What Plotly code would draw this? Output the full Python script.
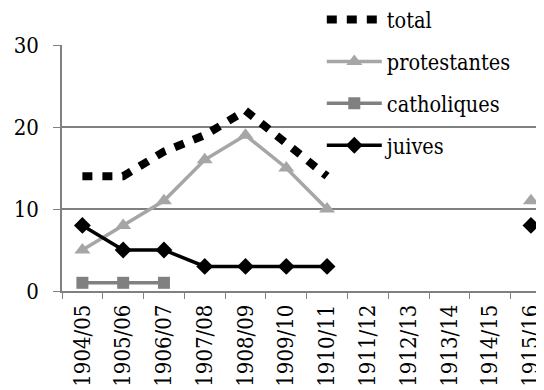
import plotly.graph_objects as go

years = ["1904/05", "1905/06", "1906/07", "1907/08", "1908/09", "1909/10",
         "1910/11", "1911/12", "1912/13", "1913/14", "1914/15", "1915/16"]
total = [14, 14, 17, 19, 22, 18, 14, None, None, None, None, None]
protestantes = [5, 8, 11, 16, 19, 15, 10, None, None, None, None, 11]
catholiques = [1, 1, 1, None, None, None, None, None, None, None, None, None]
juives = [8, 5, 5, 3, 3, 3, 3, None, None, None, None, 8]

serif = "DejaVu Serif Condensed, DejaVu Serif"

fig = go.Figure()

fig.add_trace(go.Scatter(x=years, y=total, name="total", mode="lines",
                         line=dict(color="black", width=8, dash="10px,10px"),
                         legendgroup="a"))
fig.add_trace(go.Scatter(x=years, y=protestantes, name="protestantes", mode="lines+markers",
                         line=dict(color="#a6a6a6", width=3.5),
                         marker=dict(symbol="triangle-up", size=14, color="#a6a6a6"),
                         legendgroup="b", cliponaxis=False))
fig.add_trace(go.Scatter(x=years, y=catholiques, name="catholiques", mode="lines+markers",
                         line=dict(color="#808080", width=3.5),
                         marker=dict(symbol="square", size=12, color="#808080"),
                         legendgroup="c"))
fig.add_trace(go.Scatter(x=years, y=juives, name="juives", mode="lines+markers",
                         line=dict(color="black", width=3.5),
                         marker=dict(symbol="diamond", size=13, color="black"),
                         legendgroup="d", cliponaxis=False))

# page body adds an 8px offset; the plot area is cut at the right edge
fig.update_layout(
    width=536, height=382,
    margin=dict(l=54, r=0, t=37, b=99, autoexpand=False),
    paper_bgcolor="white", plot_bgcolor="white",
    font=dict(family=serif, size=22, color="black"),
    showlegend=True,
    legend=dict(x=0.539, y=1.187, xanchor="left", yanchor="top",
                bgcolor="rgba(255,255,255,0)", font=dict(family=serif, size=21.5),
                tracegroupgap=11, traceorder="grouped", itemwidth=55),
)
fig.update_xaxes(type="category", range=[-0.5, 11.32], tickangle=-90, tickson="boundaries",
                 ticks="outside", ticklen=6, tickcolor="#808080",
                 showline=True, linecolor="#808080", linewidth=1.5,
                 showgrid=False, tickfont=dict(family=serif, size=22),
                 ticklabelstandoff=3, automargin=False)
fig.update_yaxes(range=[0, 30], tickvals=[0, 10, 20, 30],
                 ticks="outside", ticklen=7, tickcolor="#808080",
                 showline=True, linecolor="#808080", linewidth=1.5,
                 showgrid=True, gridcolor="#808080", gridwidth=1.5,
                 zeroline=False, tickfont=dict(family=serif, size=22),
                 ticklabelstandoff=10, automargin=False)

fig.write_html("out.html")
